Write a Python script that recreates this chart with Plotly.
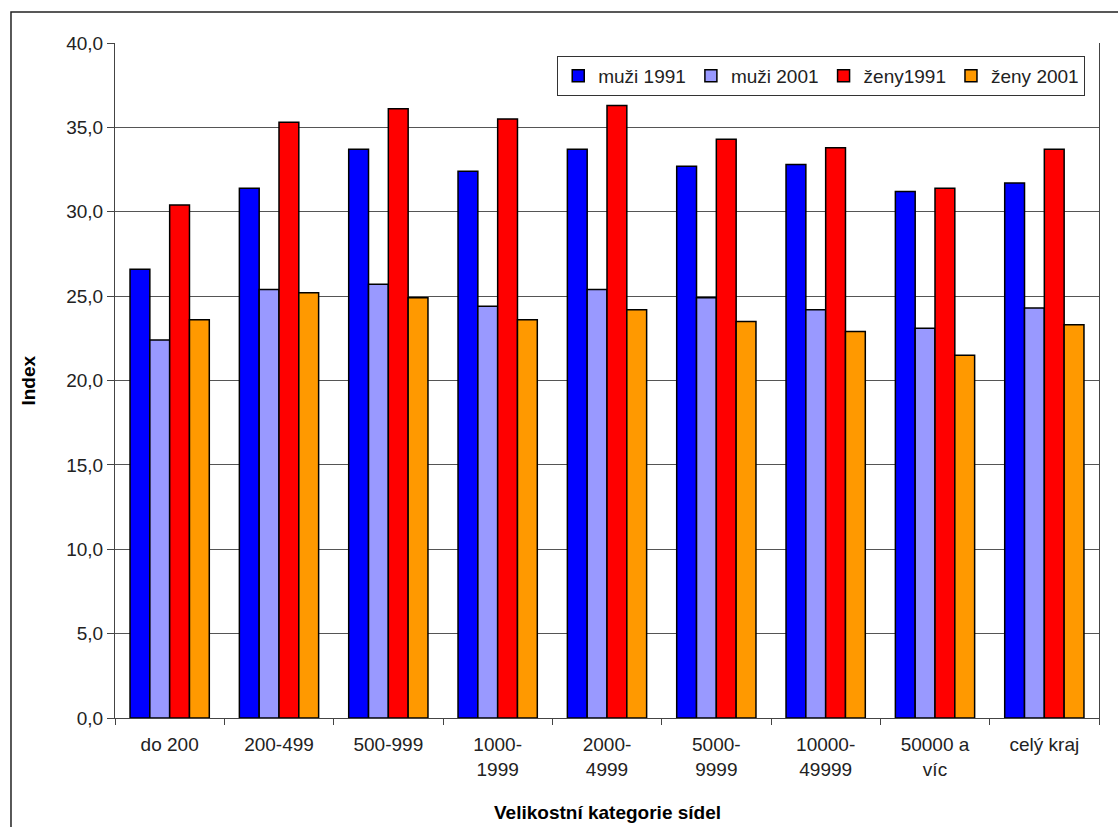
import plotly.graph_objects as go

categories = ["do 200", "200-499", "500-999", "1000-<br>1999", "2000-<br>4999",
              "5000-<br>9999", "10000-<br>49999", "50000 a<br>víc", "celý kraj"]
muzi_1991 = [26.6, 31.4, 33.7, 32.4, 33.7, 32.7, 32.8, 31.2, 31.7]
muzi_2001 = [22.4, 25.4, 25.7, 24.4, 25.4, 24.9, 24.2, 23.1, 24.3]
zeny_1991 = [30.4, 35.3, 36.1, 35.5, 36.3, 34.3, 33.8, 31.4, 33.7]
zeny_2001 = [23.6, 25.2, 24.9, 23.6, 24.2, 23.5, 22.9, 21.5, 23.3]
series_names = ["muži 1991", "muži 2001", "ženy1991", "ženy 2001"]
series_colors = ["#0000FF", "#9999FF", "#FF0000", "#FF9900"]
y_tickvals = [0, 5, 10, 15, 20, 25, 30, 35, 40]
y_ticktext = ["0,0", "5,0", "10,0", "15,0", "20,0", "25,0", "30,0", "35,0", "40,0"]

FONT = "Liberation Sans, Arial, sans-serif"

fig = go.Figure()
for name, vals, col in zip(series_names, [muzi_1991, muzi_2001, zeny_1991, zeny_2001], series_colors):
    fig.add_trace(go.Bar(x=categories, y=vals, name=name,
                         marker=dict(color=col, line=dict(color="black", width=1.5))))

fig.update_layout(
    width=1118, height=827,
    margin=dict(l=115, r=19, t=43, b=109),
    paper_bgcolor="white", plot_bgcolor="white",
    barmode="group", bargap=0.275, bargroupgap=0,
    font=dict(family=FONT, size=19, color="#222222"),
    showlegend=True,
    legend=dict(orientation="h", x=0.986, xanchor="right", y=0.981, yanchor="top",
                bordercolor="#333333", borderwidth=1, bgcolor="white",
                font=dict(family=FONT, size=19, color="#222222"),
                itemwidth=30, tracegroupgap=0),
    xaxis=dict(type="category", showline=True, linecolor="#444444", linewidth=1,
               ticks="outside", ticklen=6, tickcolor="#444444", tickson="boundaries",
               showgrid=False, tickfont=dict(family=FONT, size=19, color="#222222"),
               ticklabelstandoff=9),
    yaxis=dict(range=[0, 40], tickvals=y_tickvals, ticktext=y_ticktext,
               showline=True, linecolor="#444444", linewidth=1, mirror=True,
               ticks="outside", ticklen=7, tickcolor="#444444",
               showgrid=True, gridcolor="#555555", gridwidth=1, zeroline=False,
               tickfont=dict(family=FONT, size=19, color="#222222")),
    annotations=[
        dict(text="<b>Index</b>", xref="paper", yref="paper", x=-0.0884, y=0.5,
             textangle=-90, showarrow=False, font=dict(family=FONT, size=19, color="black"),
             xanchor="center", yanchor="middle"),
        dict(text="<b>Velikostní kategorie sídel</b>", xref="paper", yref="paper",
             x=0.5, y=-0.14, showarrow=False, font=dict(family=FONT, size=19, color="black"),
             xanchor="center", yanchor="middle"),
    ],
    shapes=[
        dict(type="rect", xref="paper", yref="paper", x0=-0.1057, x1=1.03, y0=-0.2, y1=1.046,
             line=dict(color="#222222", width=1.5), fillcolor="rgba(0,0,0,0)", layer="below"),
    ],
)

fig.write_html("out.html", config={"displayModeBar": False},
               post_script="document.body.style.margin='0';document.body.style.overflow='hidden';")
